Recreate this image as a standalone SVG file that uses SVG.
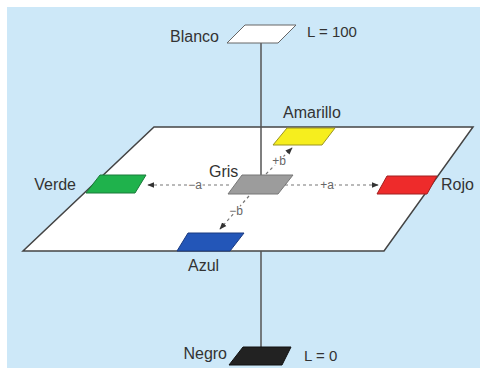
<svg xmlns="http://www.w3.org/2000/svg" width="480" height="378" viewBox="0 0 480 378">
<defs>
<style>
.t{font-family:"Liberation Sans",Arial,sans-serif;font-size:16px;fill:#333}
.s{font-family:"Liberation Sans",Arial,sans-serif;font-size:12px;fill:#666;stroke:#fff;stroke-width:3px;paint-order:stroke}
.d{stroke:#777;stroke-width:1.2;stroke-dasharray:3 3;fill:none}
.ax{stroke:#555;stroke-width:1.5;fill:none}
</style>
<marker id="ah" viewBox="0 0 10 10" refX="9" refY="5" markerWidth="6" markerHeight="6" orient="auto">
<path d="M0,1 L10,5 L0,9 z" fill="#333"/>
</marker>
</defs>
<rect x="0" y="0" width="480" height="378" fill="#fff"/>
<rect x="7" y="7" width="473" height="361" fill="#cde8f8"/>
<g id="plane">
<polygon points="154,127 473,127 384,251 23,251" fill="#fff" stroke="#444" stroke-width="1.5"/>
</g>
<g id="connectors">
<line class="ax" x1="261" y1="43" x2="261" y2="176"/>
<line class="ax" x1="261" y1="251" x2="261" y2="347"/>
<line class="d" x1="229" y1="185" x2="148" y2="185" marker-end="url(#ah)"/>
<line class="d" x1="285" y1="185" x2="378" y2="185" marker-end="url(#ah)"/>
<line class="d" x1="266" y1="174" x2="292" y2="148" marker-end="url(#ah)"/>
<line class="d" x1="249" y1="196" x2="220" y2="229" marker-end="url(#ah)"/>
<text class="s" x="195" y="189" text-anchor="middle">−a</text>
<text class="s" x="327" y="189" text-anchor="middle">+a</text>
<text class="s" x="279" y="165" text-anchor="middle">+b</text>
<text class="s" x="236" y="215" text-anchor="middle">−b</text>
</g>
<g id="blanco">
<polygon points="245,25 296,25 278,43 227,43" fill="#fff" stroke="#666" stroke-width="1"/>
<text class="t" x="219" y="42" text-anchor="end">Blanco</text>
<text class="t" x="307" y="37" style="font-size:15px">L = 100</text>
</g>
<g id="amarillo">
<polygon points="287,128 335,128 322,145 273,145" fill="#f6ee1e" stroke="#9a9420" stroke-width="1"/>
<text class="t" x="283" y="118">Amarillo</text>
</g>
<g id="gris">
<polygon points="242,175 293,175 278,194 228,194" fill="#9c9c9c" stroke="#777" stroke-width="1"/>
<text class="t" x="209" y="177">Gris</text>
</g>
<g id="verde">
<polygon points="100,175 146,175 135,193 86,193" fill="#1fb24c" stroke="#1a7a3a" stroke-width="1"/>
<text class="t" x="76" y="190" text-anchor="end">Verde</text>
</g>
<g id="rojo">
<polygon points="387,176 437,176 427,194 377,194" fill="#ee2b2b" stroke="#a02020" stroke-width="1"/>
<text class="t" x="441" y="190">Rojo</text>
</g>
<g id="azul">
<polygon points="188,233 244,233 230,251 177,251" fill="#2356b8" stroke="#1a3a80" stroke-width="1"/>
<text class="t" x="188" y="271">Azul</text>
</g>
<g id="negro">
<polygon points="243,347 291,347 282,365 229,365" fill="#222" stroke="#111" stroke-width="1"/>
<text class="t" x="227" y="359" text-anchor="end">Negro</text>
<text class="t" x="304" y="361" style="font-size:15px">L = 0</text>
</g>
</svg>
